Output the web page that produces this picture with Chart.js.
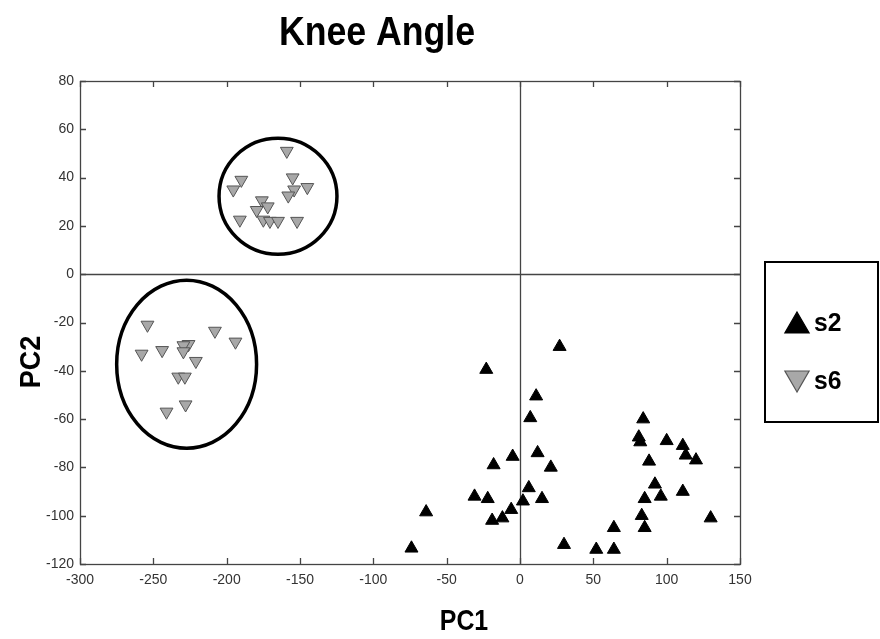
<!DOCTYPE html>
<html>
<head>
<meta charset="utf-8">
<script src="https://cdn.jsdelivr.net/npm/chart.js@4.4.1/dist/chart.umd.min.js"></script>
<style>
    html, body { margin: 0; padding: 0; background: #fff; }
</style>
</head>
<body>
<canvas id="chart" width="880" height="639"></canvas>
<script>
// =============================================================================
// data
// =============================================================================
const xTicks = [-300, -250, -200, -150, -100, -50, 0, 50, 100, 150];
const yTicks = [80, 60, 40, 20, 0, -20, -40, -60, -80, -100, -120];

const s2X = [27, -23, 11, 7, -5, 12, -18, 21, 6, -31, -22, 15, 2, -6, -12, -19, -64, -74, 30,
             84, 81, 82, 100, 111, 113, 120, 88, 92, 96, 85, 111, 83, 85, 64, 130, 52, 64];
const s2Y = [-30, -39.5, -50.5, -59.5, -75.5, -74, -79, -80, -88.5, -92, -93, -93, -94, -97.5, -101, -102, -98.5, -113.5, -112,
             -60, -67.5, -69.5, -69, -71, -75, -77, -77.5, -87, -92, -93, -90, -100, -105, -105, -101, -114, -114];

const s6X = [-159, -155, -190, -195.5, -154, -145, -158, -176, -172, -179.5, -191, -175, -170.5, -165, -152,
             -254, -208, -194, -226, -229.5, -244, -258, -229.5, -221, -233, -228.5, -228, -241];
const s6Y = [51, 40, 39, 35, 35, 36, 32.5, 30.5, 28, 26.5, 22.5, 22.5, 22, 22, 22,
             -21, -23.5, -28, -29, -29.5, -31.5, -33, -32, -36, -42.5, -42.5, -54, -57];

// cluster circles: centre x, centre y, radius x, radius y (data units)
const ringCx = [-165, -227.3];
const ringCy = [32.3, -37.3];
const ringRx = [40.2, 47.7];
const ringRy = [24, 34.8];

const seriesNames = ["s2", "s6"];

// =============================================================================
// helpers
// =============================================================================
const BOLD = "'Liberation Sans', Arial, sans-serif";

function toPoints(xs, ys) {
    return xs.map((x, i) => ({ x: x, y: ys[i] }));
}

// condensed text: squeeze horizontally around the anchor
function squeezedText(ctx, text, x, y, sx, rot) {
    ctx.save();
    ctx.translate(x, y);
    if (rot) ctx.rotate(rot);
    ctx.scale(sx, 1);
    ctx.fillText(text, 0, 0);
    ctx.restore();
}

function triangle(ctx, x, y, r, rot, fill, stroke, lw) {
    ctx.save();
    ctx.translate(x, y);
    ctx.rotate(rot * Math.PI / 180);
    ctx.beginPath();
    for (let k = 0; k < 3; k++) {
        const a = k * 2 * Math.PI / 3;
        const px = Math.sin(a) * r;
        const py = -Math.cos(a) * r;
        if (k === 0) ctx.moveTo(px, py); else ctx.lineTo(px, py);
    }
    ctx.closePath();
    ctx.fillStyle = fill;
    ctx.fill();
    ctx.lineWidth = lw;
    ctx.strokeStyle = stroke;
    ctx.stroke();
    ctx.restore();
}

// crosshair, rings, frame, inward ticks, titles, legend box
const decor = {
    id: "decor",
    beforeDatasetsDraw(chart) {
        const { ctx, chartArea: a, scales: { x, y } } = chart;
        ctx.save();
        ctx.strokeStyle = "#444";
        ctx.lineWidth = 1.3;
        ctx.beginPath();
        const x0 = Math.round(x.getPixelForValue(0)) + 0.5;
        const y0 = Math.round(y.getPixelForValue(0)) + 0.5;
        ctx.moveTo(x0, a.top); ctx.lineTo(x0, a.bottom);
        ctx.moveTo(a.left, y0); ctx.lineTo(a.right, y0);
        ctx.stroke();

        ctx.strokeStyle = "#000";
        ctx.lineWidth = 3.5;
        ringCx.forEach((cx, i) => {
            const px = x.getPixelForValue(cx);
            const py = y.getPixelForValue(ringCy[i]);
            const rx = x.getPixelForValue(cx + ringRx[i]) - px;
            const ry = py - y.getPixelForValue(ringCy[i] + ringRy[i]);
            ctx.beginPath();
            ctx.ellipse(px, py, rx, ry, 0, 0, 2 * Math.PI);
            ctx.stroke();
        });
        ctx.restore();
    },
    afterDraw(chart) {
        const { ctx, chartArea: a, scales: { x, y } } = chart;
        ctx.save();

        // frame + inward ticks on all sides
        ctx.strokeStyle = "#444";
        ctx.lineWidth = 1.3;
        ctx.strokeRect(a.left + 0.5, a.top + 0.5, a.right - a.left, a.bottom - a.top);
        ctx.beginPath();
        xTicks.forEach((v) => {
            const px = Math.round(x.getPixelForValue(v)) + 0.5;
            ctx.moveTo(px, a.bottom); ctx.lineTo(px, a.bottom - 6);
            ctx.moveTo(px, a.top); ctx.lineTo(px, a.top + 6);
        });
        yTicks.forEach((v) => {
            const py = Math.round(y.getPixelForValue(v)) + 0.5;
            ctx.moveTo(a.left, py); ctx.lineTo(a.left + 6, py);
            ctx.moveTo(a.right, py); ctx.lineTo(a.right - 6, py);
        });
        ctx.stroke();

        // titles
        ctx.fillStyle = "#000";
        ctx.textAlign = "center";
        ctx.textBaseline = "alphabetic";
        ctx.font = "bold 41px " + BOLD;
        squeezedText(ctx, "Knee Angle", 377, 45, 0.87);
        ctx.font = "bold 30px " + BOLD;
        squeezedText(ctx, "PC1", 464, 630, 0.83);
        squeezedText(ctx, "PC2", 40, 362, 0.9, -Math.PI / 2);

        // legend box
        ctx.strokeStyle = "#000";
        ctx.lineWidth = 2;
        ctx.strokeRect(765, 262, 113, 160);
        const rows = [323, 381];
        chart.data.datasets.forEach((ds, i) => {
            triangle(ctx, 797, rows[i] + (i === 0 ? 3 : -3), 14, ds.pointRotation || 0,
                ds.pointBackgroundColor, ds.pointBorderColor, 1.2);
            ctx.fillStyle = "#000";
            ctx.textAlign = "left";
            ctx.font = "bold 26px " + BOLD;
            squeezedText(ctx, seriesNames[i], 814, rows[i] + 8, 0.95);
        });
        ctx.restore();
    },
};

// =============================================================================
// chart
// =============================================================================
const tickFont = { family: "'Liberation Sans', Arial, sans-serif", size: 14 };

new Chart(document.getElementById("chart"), {
    type: "scatter",
    data: {
        datasets: [
            {
                label: seriesNames[0],
                data: toPoints(s2X, s2Y),
                pointStyle: "triangle",
                pointRadius: 7.5,
                pointBackgroundColor: "#000",
                pointBorderColor: "#000",
                pointBorderWidth: 1,
            },
            {
                label: seriesNames[1],
                data: toPoints(s6X, s6Y),
                pointStyle: "triangle",
                pointRotation: 180,
                pointRadius: 7.4,
                pointBackgroundColor: "#a8a8a8",
                pointBorderColor: "#555",
                pointBorderWidth: 1,
            },
        ],
    },
    options: {
        responsive: false,
        animation: false,
        events: [],
        layout: { padding: { top: 81, right: 140, bottom: 0, left: 0 } },
        plugins: {
            legend: { display: false },
            tooltip: { enabled: false },
        },
        scales: {
            x: {
                type: "linear",
                min: -300,
                max: 150,
                afterFit: (s) => { s.height = 75; },
                afterBuildTicks: (s) => { s.ticks = xTicks.map((v) => ({ value: v })); },
                ticks: { autoSkip: false, maxRotation: 0, padding: 8, color: "#333", font: tickFont },
                grid: { display: false, drawTicks: false },
                border: { display: false },
            },
            y: {
                type: "linear",
                min: -120,
                max: 80,
                afterFit: (s) => { s.width = 80; },
                afterBuildTicks: (s) => { s.ticks = yTicks.map((v) => ({ value: v })); },
                ticks: { autoSkip: false, padding: 6, color: "#333", font: tickFont },
                grid: { display: false, drawTicks: false },
                border: { display: false },
            },
        },
    },
    plugins: [decor],
});
</script>
</body>
</html>
